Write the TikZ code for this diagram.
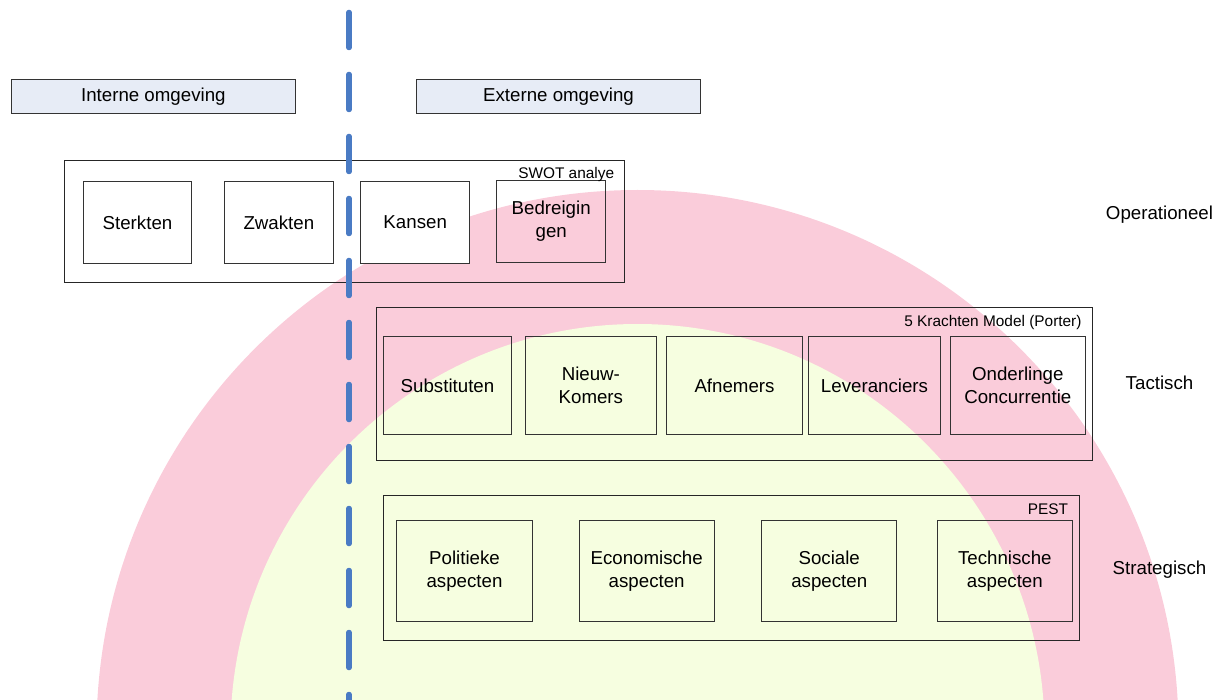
\documentclass[tikz,border=0pt]{standalone}
\usepackage{fontspec}
\setmainfont{Liberation Sans}
\definecolor{ringpink}{RGB}{250,204,218}
\definecolor{coreyellow}{RGB}{246,254,224}
\definecolor{splitblue}{RGB}{74,123,196}
\definecolor{headfill}{RGB}{231,236,246}
\newcommand{\lblfont}{\fontsize{18.7}{22.5}\selectfont}
\newcommand{\tagfont}{\fontsize{15.4}{18}\selectfont}
\begin{document}
\begin{tikzpicture}[x=1pt,y=-1pt,
  head/.style={draw=black!80, line width=1pt, fill=headfill, inner sep=0pt, font=\lblfont},
  frame/.style={draw=black!85, line width=0.9pt, inner sep=0pt},
  item/.style={draw=black!80, line width=0.9pt, inner sep=0pt, align=center, font=\lblfont},
  tag/.style={inner sep=0pt, font=\tagfont, anchor=east},
  level/.style={inner sep=0pt, font=\lblfont},
  split/.style={draw=splitblue, line width=5.5pt, line cap=round, dash pattern=on 35pt off 27pt}]
\useasboundingbox (0,0) rectangle (1222,700);

% background rings
\begin{scope}
  \clip (0,0) rectangle (1222,700);
  \fill[ringpink] (637.5,731) circle[radius=541];
  \fill[coreyellow] (637.5,731) circle[radius=407];
\end{scope}

% headers
\node[head, minimum width=283.7pt, minimum height=34pt] (intern) at (153.35,96.3) {Interne omgeving};
\node[head, minimum width=284.2pt, minimum height=34pt] (extern) at (558.5,96.3) {Externe omgeving};

% SWOT
\node[frame, minimum width=560pt, minimum height=122.3pt] (swot) at (344.3,221.15) {};
\node[item, fill=white, minimum width=108.8pt, minimum height=81.6pt] (s) at (137.5,222.5) {Sterkten};
\node[item, fill=white, minimum width=108.8pt, minimum height=81.6pt] (w) at (278.9,222.5) {Zwakten};
\node[item, fill=white, minimum width=109pt, minimum height=81.6pt] (o) at (415.2,222.5) {Kansen};
\node[item, minimum width=109pt, minimum height=81.3pt] (t) at (551.2,221.35) {Bedreigin\\gen};
\node[tag] (swottag) at (614.3,175) {SWOT analye};

% Porter
\node[frame, minimum width=715.6pt, minimum height=152.7pt] (porter) at (734.5,383.65) {};
\node[item, minimum width=128.4pt, minimum height=97.6pt] (p1) at (447.5,385.5) {Substituten};
\node[item, minimum width=131.7pt, minimum height=97.6pt] (p2) at (590.85,385.5) {Nieuw-\\Komers};
\node[item, minimum width=135.6pt, minimum height=97.6pt] (p3) at (734.5,385.5) {Afnemers};
\node[item, minimum width=131.6pt, minimum height=97.6pt] (p4) at (874.5,385.5) {Leveranciers};
\node[item, minimum width=135pt, minimum height=97.6pt] (p5) at (1017.8,385.5) {Onderlinge\\Concurrentie};
\node[tag] (portertag) at (1081.7,323) {5 Krachten Model (Porter)};

% PEST
\node[frame, minimum width=695.7pt, minimum height=145pt] (pest) at (731.15,568.2) {};
\node[item, minimum width=135.6pt, minimum height=101pt] (e1) at (464.5,571.2) {Politieke\\aspecten};
\node[item, minimum width=135.3pt, minimum height=101pt] (e2) at (646.65,571.2) {Economische\\aspecten};
\node[item, minimum width=135pt, minimum height=101pt] (e3) at (829.2,571.2) {Sociale\\aspecten};
\node[item, minimum width=135pt, minimum height=101pt] (e4) at (1004.8,571.2) {Technische\\aspecten};
\node[tag] (pesttag) at (1068.3,509) {PEST};

% levels
\node[level] (op) at (1159.5,215) {Operationeel};
\node[level] (ta) at (1159.5,383) {Tactisch};
\node[level] (st) at (1159.5,570) {Strategisch};

% internal / external split
\coordinate (splittop) at (349,12.5);
\coordinate (splitbot) at (349,730);
\begin{scope}
  \clip (0,0) rectangle (1222,700);
  \draw[split] (splittop) -- (splitbot);
\end{scope}
\end{tikzpicture}
\end{document}
